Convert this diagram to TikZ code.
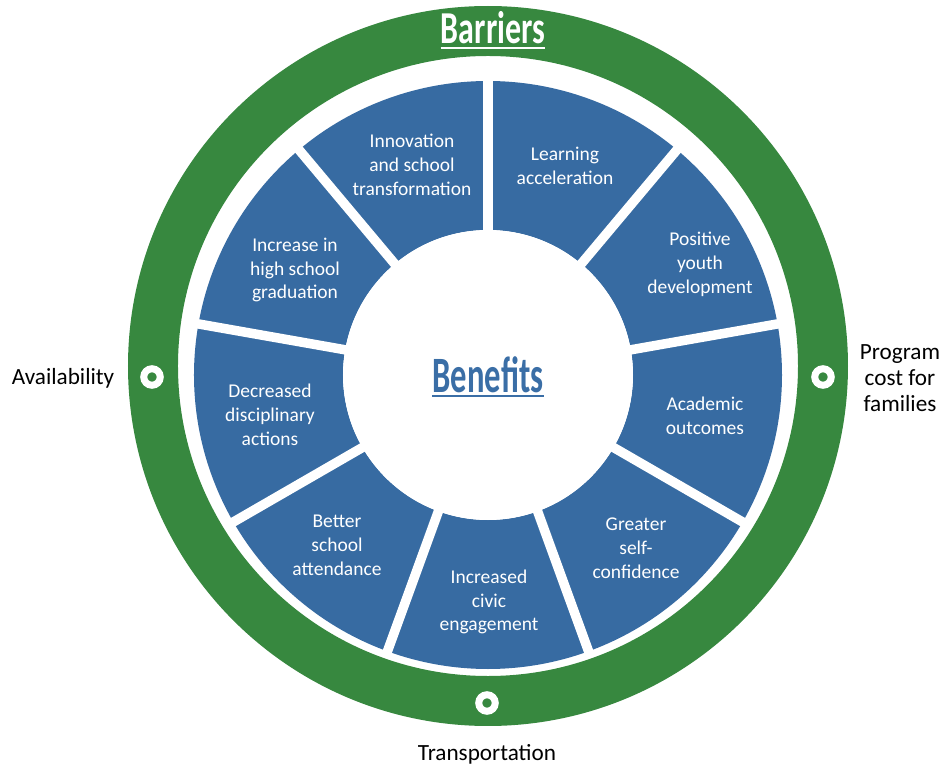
\documentclass[tikz,border=0pt]{standalone}
\usepackage{fontspec}
\setmainfont{Carlito}
\usepackage{tikz}
\usetikzlibrary{calc}
\definecolor{ringgreen}{HTML}{37883F}
\definecolor{segblue}{HTML}{376BA2}
\definecolor{headblue}{HTML}{3A6EA6}
\tikzset{
  ring/.style={draw=ringgreen, line width=1.0cm},
  seg/.style={fill=segblue},
  gap/.style={draw=white, line width=0.19cm},
  marker/.style={circle, draw=white, line width=0.14cm, fill=ringgreen, minimum size=0.33cm, inner sep=0pt},
  lab/.style={text=white, align=center, inner sep=0pt, font=\fontsize{11.1}{13.6}\selectfont},
  labo/.style={text=black, align=center, inner sep=0pt, font=\fontsize{13.2}{14.8}\selectfont},
  head/.style={inner sep=0pt, anchor=base, font=\bfseries},
}

\begin{document}
\begin{tikzpicture}[x=0.02cm, y=0.02cm]
  \def\rin{145}
  \def\rout{294}
  \useasboundingbox (-488,-392) rectangle (455,375);
  \coordinate (O) at (0,0);
  \coordinate (G) at (0,9);

  % barrier ring and the white margin round the wheel
  \draw[ring] (G) circle (335);
  \fill[white] (O) circle (297);

  % wheel of benefits, 40 degrees per sector
  \foreach \a in {110,70,...,-210}
    \fill[seg] ({\a-20}:\rin) arc[start angle=\a-20, end angle=\a+20, radius=\rin]
      -- ({\a+20}:\rout) arc[start angle=\a+20, end angle=\a-20, radius=\rout] -- cycle;
  \foreach \g in {10,50,...,330}
    \draw[gap] (O) -- (\g:297);
  \fill[white] (O) circle (\rin);

  \foreach \p/\txt [count=\i] in {
      {(-76,210)}/{Innovation\\and school\\transformation},
      {(77,209)}/{Learning\\acceleration},
      {(212,111)}/{Positive\\youth\\development},
      {(217,-41)}/{Academic\\outcomes},
      {(148,-173)}/{Greater\\self-\\confidence},
      {(1,-227)}/{Increased\\civic\\engagement},
      {(-151,-170)}/{Better\\school\\attendance},
      {(-218,-40)}/{Decreased\\disciplinary\\actions},
      {(-193,105)}/{Increase in\\high school\\graduation}}
    \node[lab] (benefit\i) at \p {\txt};

  % headings
  \node[head, text=white, font=\fontsize{26}{30}\selectfont\bfseries] (barriers) at (5,331)
    {\scalebox{0.70}[1]{Barriers}};
  \draw[white, line width=0.045cm] ([yshift=-0.08cm]barriers.base west) -- ([yshift=-0.08cm]barriers.base east);
  \node[head, text=headblue, font=\fontsize{29}{33}\selectfont\bfseries] (benefits) at (0,-18)
    {\scalebox{0.64}[1]{Benefits}};
  \draw[headblue, line width=0.045cm] ([yshift=-0.06cm]benefits.base west) -- ([yshift=-0.06cm]benefits.base east);

  % barrier markers and their labels
  \node[marker] (mleft) at (-336,-2) {};
  \node[marker] (mright) at (335,-2) {};
  \node[marker] (mbottom) at (-1,-328) {};
  \node[labo] (avail) at (-425,-3) {Availability};
  \node[labo] (cost) at (412,-3) {Program\\cost for\\families};
  \node[labo] (transport) at (-1,-379) {Transportation};
\end{tikzpicture}
\end{document}
